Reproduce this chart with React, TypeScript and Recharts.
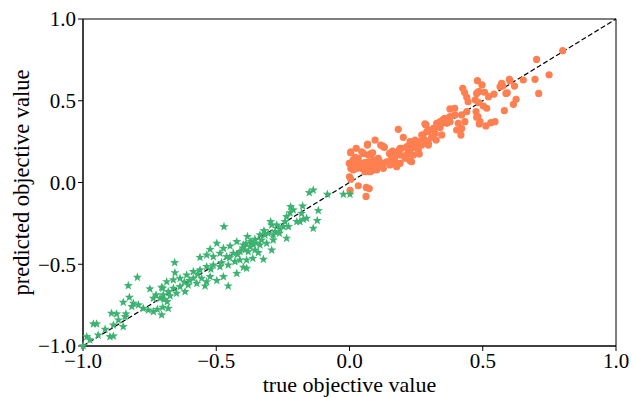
import { ScatterChart, Scatter, XAxis, YAxis, ReferenceLine, ReferenceArea, Label } from "recharts"

// [true, predicted]
const orangePoints: [number, number][] = [
  [0.0, 0.035], [0.005, 0.02], [0.002, -0.048], [0.033, -0.02], [0.063, -0.03], [0.074, -0.037], [0.062, -0.085],
  [0.002, 0.118], [0.021, 0.127], [0.005, 0.188], [0.025, 0.209], [0.052, 0.178], [0.046, 0.188], [0.033, 0.147],
  [0.071, 0.168], [0.083, 0.178], [0.068, 0.235], [0.096, 0.26], [0.125, 0.223], [0.131, 0.215], [0.015, 0.096],
  [0.027, 0.086], [0.04, 0.096], [0.052, 0.117], [0.071, 0.127], [0.09, 0.137], [0.108, 0.148], [0.115, 0.113],
  [0.127, 0.117], [0.14, 0.127], [0.152, 0.107], [0.165, 0.137], [0.177, 0.117], [0.158, 0.188], [0.171, 0.158],
  [0.187, 0.199], [0.19, 0.168], [0.196, 0.209], [0.215, 0.219], [0.233, 0.219], [0.221, 0.188], [0.24, 0.168],
  [0.212, 0.168], [0.227, 0.133], [0.262, 0.174], [0.083, 0.096], [0.065, 0.086], [0.077, 0.066], [0.058, 0.066],
  [0.022, 0.154], [0.005, 0.086], [0.162, 0.192], [0.177, 0.178],
  [0.004, 0.182], [0.077, 0.174], [0.087, 0.182], [0.014, 0.138], [-0.001, 0.117], [0.02, 0.107], [0.039, 0.117],
  [0.058, 0.121], [0.102, 0.138], [0.114, 0.127], [0.152, 0.117], [0.171, 0.127], [0.19, 0.117], [0.177, 0.097],
  [0.158, 0.148], [0.15, 0.178], [0.164, 0.178], [0.19, 0.209], [0.208, 0.148], [0.108, 0.107], [0.089, 0.097],
  [0.064, 0.087], [0.046, 0.087], [0.014, 0.077], [0.083, 0.07], [0.102, 0.077], [0.127, 0.087], [0.067, 0.229],
  [0.117, 0.229], [0.127, 0.219], [0.24, 0.215], [0.258, 0.199], [0.296, 0.229], [0.227, 0.178], [0.233, 0.127],
  [0.183, 0.325], [0.202, 0.276], [0.227, 0.25], [0.246, 0.26], [0.265, 0.25], [0.283, 0.26], [0.296, 0.239],
  [0.271, 0.229], [0.252, 0.219], [0.287, 0.352], [0.302, 0.321], [0.321, 0.301], [0.308, 0.276], [0.327, 0.362],
  [0.34, 0.337], [0.315, 0.331], [0.346, 0.372], [0.271, 0.29], [0.233, 0.244], [0.29, 0.25], [0.275, 0.291],
  [0.346, 0.291], [0.325, 0.26], [0.29, 0.311], [0.283, 0.358],
  [0.358, 0.392], [0.365, 0.362], [0.377, 0.403], [0.377, 0.45], [0.395, 0.454], [0.408, 0.362], [0.421, 0.331],
  [0.402, 0.321], [0.418, 0.29], [0.421, 0.413], [0.433, 0.372], [0.44, 0.433], [0.425, 0.576], [0.432, 0.55],
  [0.44, 0.521], [0.445, 0.494], [0.48, 0.623], [0.497, 0.597], [0.477, 0.545], [0.487, 0.556], [0.507, 0.552],
  [0.472, 0.505], [0.485, 0.488], [0.515, 0.454], [0.475, 0.433], [0.482, 0.403], [0.49, 0.372], [0.512, 0.346],
  [0.396, 0.413], [0.352, 0.386], [0.34, 0.372], [0.377, 0.372], [0.53, 0.366], [0.546, 0.372], [0.483, 0.555],
  [0.502, 0.468], [0.477, 0.399], [0.487, 0.358], [0.522, 0.525], [0.542, 0.541],
  [0.8, 0.806], [0.702, 0.753], [0.749, 0.659], [0.696, 0.631], [0.71, 0.545], [0.652, 0.627], [0.602, 0.623],
  [0.571, 0.607], [0.575, 0.59], [0.592, 0.549], [0.587, 0.545], [0.619, 0.59], [0.625, 0.509], [0.615, 0.478],
  [0.581, 0.439], [0.6, 0.631], [0.565, 0.586],
]

const greenPoints: [number, number][] = [
  [-0.023, -0.072], [0.002, -0.072],
  [-0.151, -0.062], [-0.136, -0.046], [-0.083, -0.072], [-0.176, -0.144], [-0.221, -0.148], [-0.211, -0.168],
  [-0.223, -0.185], [-0.18, -0.189], [-0.117, -0.172], [-0.173, -0.225], [-0.161, -0.219], [-0.121, -0.233],
  [-0.136, -0.28], [-0.198, -0.24], [-0.186, -0.24], [-0.236, -0.209], [-0.242, -0.24], [-0.248, -0.27],
  [-0.229, -0.27], [-0.261, -0.286], [-0.296, -0.24], [-0.292, -0.26], [-0.273, -0.26], [-0.321, -0.295],
  [-0.279, -0.301], [-0.263, -0.311], [-0.286, -0.321], [-0.305, -0.311], [-0.317, -0.321], [-0.336, -0.321],
  [-0.33, -0.352], [-0.355, -0.348], [-0.236, -0.341], [-0.286, -0.352], [-0.311, -0.372], [-0.292, -0.413],
  [-0.336, -0.382], [-0.361, -0.382], [-0.373, -0.393], [-0.392, -0.413], [-0.398, -0.382], [-0.38, -0.423],
  [-0.355, -0.413], [-0.342, -0.429], [-0.323, -0.47], [-0.363, -0.464], [-0.386, -0.474], [-0.398, -0.519],
  [-0.386, -0.525],
  [-0.471, -0.27], [-0.383, -0.331], [-0.388, -0.372], [-0.423, -0.362], [-0.448, -0.389], [-0.498, -0.372],
  [-0.473, -0.403], [-0.523, -0.409], [-0.561, -0.458], [-0.536, -0.444], [-0.511, -0.454], [-0.486, -0.433],
  [-0.461, -0.454], [-0.436, -0.433], [-0.411, -0.423], [-0.411, -0.474], [-0.43, -0.484], [-0.455, -0.505],
  [-0.486, -0.515], [-0.511, -0.505], [-0.536, -0.515], [-0.561, -0.535], [-0.586, -0.545], [-0.656, -0.49],
  [-0.655, -0.552], [-0.611, -0.566], [-0.636, -0.586], [-0.661, -0.596], [-0.686, -0.607], [-0.586, -0.586],
  [-0.555, -0.586], [-0.523, -0.576], [-0.498, -0.6], [-0.536, -0.607], [-0.573, -0.617], [-0.605, -0.627],
  [-0.636, -0.637], [-0.661, -0.647], [-0.68, -0.668], [-0.701, -0.647], [-0.699, -0.688], [-0.673, -0.694],
  [-0.649, -0.678], [-0.617, -0.668], [-0.542, -0.633], [-0.455, -0.633], [-0.473, -0.576], [-0.423, -0.556],
  [-0.701, -0.763], [-0.68, -0.77],
  [-0.6, -0.6], [-0.62, -0.61], [-0.57, -0.56], [-0.52, -0.53], [-0.48, -0.49], [-0.45, -0.46], [-0.42, -0.44],
  [-0.4, -0.4], [-0.37, -0.36], [-0.35, -0.37],
  [-0.796, -0.58], [-0.83, -0.631], [-0.749, -0.651], [-0.705, -0.641], [-0.726, -0.688], [-0.711, -0.708],
  [-0.736, -0.708], [-0.696, -0.715], [-0.684, -0.729], [-0.826, -0.702], [-0.849, -0.733], [-0.811, -0.739],
  [-0.792, -0.749], [-0.817, -0.759], [-0.774, -0.77], [-0.755, -0.78], [-0.736, -0.79], [-0.705, -0.81],
  [-0.721, -0.776], [-0.893, -0.8], [-0.874, -0.804], [-0.839, -0.804], [-0.867, -0.841], [-0.842, -0.821],
  [-0.886, -0.872], [-0.849, -0.882], [-0.961, -0.865], [-0.949, -0.865], [-0.917, -0.898], [-0.899, -0.943],
  [-0.886, -0.939], [-0.943, -0.933], [-0.986, -0.943], [-0.974, -0.963], [-0.999, -0.999],
]

const ticks = [-1, -0.5, 0, 0.5, 1]

const FONT = "'Liberation Serif', 'DejaVu Serif', serif"
const ORANGE = "#ff7f50"
const GREEN = "#3cb371"

const toRows = (pts: [number, number][]) => pts.map(([t, p]) => ({ t, p }))
const fmt = (v: number) => (v < 0 ? "\u2212" : "") + Math.abs(v).toFixed(1)

const Dot = (props: any) => <circle cx={props.cx} cy={props.cy} r={3.6} fill={ORANGE} />

const Star = (props: any) => {
  const { cx, cy } = props
  const pts: string[] = []
  for (let i = 0; i < 10; i++) {
    const r = i % 2 === 0 ? 4.8 : 2
    const a = -Math.PI / 2 + (i * Math.PI) / 5
    pts.push(`${cx + r * Math.cos(a)},${cy + r * Math.sin(a)}`)
  }
  return <polygon points={pts.join(" ")} fill={GREEN} />
}

export default function App() {
  return (
    <div style={{ position: "absolute", left: 0, top: 0, background: "#fff" }}>
      <ScatterChart width={633} height={398} margin={{ top: 19, right: 17, left: 0, bottom: 0 }}>
        <XAxis
          type="number"
          dataKey="t"
          domain={[-1, 1]}
          ticks={ticks}
          tickFormatter={fmt}
          height={52}
          stroke="#000"
          tickSize={5}
          tick={{ fill: "#000", fontSize: 21, fontFamily: FONT }}
        >
          <Label
            content={({ viewBox }: any) => (
              <text x={viewBox.x + viewBox.width / 2} y={392} textAnchor="middle" fontSize={22} fontFamily={FONT} fill="#000">
                true objective value
              </text>
            )}
          />
        </XAxis>
        <YAxis
          type="number"
          dataKey="p"
          domain={[-1, 1]}
          ticks={ticks}
          tickFormatter={fmt}
          width={83}
          stroke="#000"
          tickSize={5}
          tick={{ fill: "#000", fontSize: 21, fontFamily: FONT }}
        >
          <Label
            content={({ viewBox }: any) => {
              const cy = viewBox.y + viewBox.height / 2
              return (
                <text x={29} y={cy} transform={`rotate(-90, 29, ${cy})`} textAnchor="middle" fontSize={22.5} fontFamily={FONT} fill="#000">
                  predicted objective value
                </text>
              )
            }}
          />
        </YAxis>
        <ReferenceArea x1={-1} x2={1} y1={-1} y2={1} fill="none" stroke="#000" strokeWidth={1} />
        <Scatter data={toRows(orangePoints)} shape={Dot} isAnimationActive={false} />
        <Scatter data={toRows(greenPoints)} shape={Star} isAnimationActive={false} />
        <ReferenceLine
          segment={[{ x: -1, y: -1 }, { x: 1, y: 1 }]}
          stroke="#000"
          strokeWidth={1.2}
          strokeDasharray="5 2.5"
        />
      </ScatterChart>
    </div>
  )
}
